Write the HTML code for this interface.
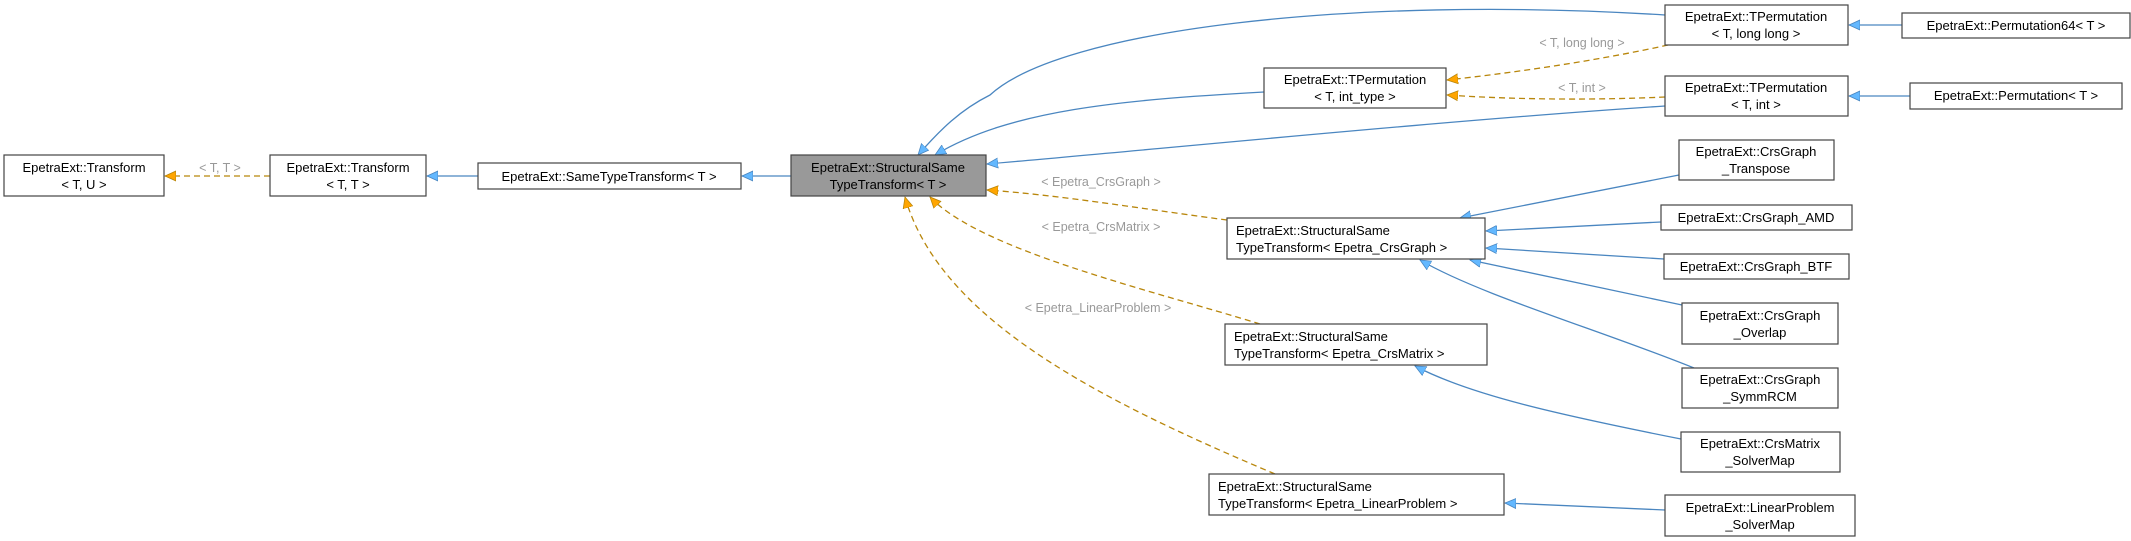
<!DOCTYPE html>
<html><head><meta charset="utf-8"><style>
html,body{margin:0;padding:0;background:#fff;}
svg{display:block;}
text{font-family:"Liberation Sans","DejaVu Sans",sans-serif;font-size:13px;fill:#000;}
.b{fill:#fff;stroke:#444;stroke-width:1.2;}
.l{font-size:12.5px;fill:#999;}
.bl{fill:none;stroke:#4a86c0;stroke-width:1.3;}
.or{fill:none;stroke:#b8860b;stroke-width:1.3;stroke-dasharray:6,4;}
</style></head><body>
<svg width="2131" height="541" viewBox="0 0 2131 541">
<defs>
<marker id="ab" markerWidth="12" markerHeight="12" refX="11" refY="6" orient="auto" markerUnits="userSpaceOnUse"><path d="M0,1 L11,6 L0,11 Z" fill="#63b8ff" stroke="#4a86c0" stroke-width="0.8"/></marker>
<marker id="ao" markerWidth="12" markerHeight="12" refX="11" refY="6" orient="auto" markerUnits="userSpaceOnUse"><path d="M0,1 L11,6 L0,11 Z" fill="#ffa500" stroke="#b8860b" stroke-width="0.8"/></marker>
</defs>
<!-- edges -->
<path class="or" d="M270,176 L165,176" marker-end="url(#ao)"/>
<path class="bl" d="M478,176 L427,176" marker-end="url(#ab)"/>
<path class="bl" d="M791,176 L742,176" marker-end="url(#ab)"/>
<path class="bl" d="M1665,15 C1350,-5 1060,30 990,95 C960,110 940,130 918,155" marker-end="url(#ab)"/>
<path class="bl" d="M1264,92 C1120,100 1010,110 935,155" marker-end="url(#ab)"/>
<path class="bl" d="M1665,106 C1450,120 1150,150 987,164" marker-end="url(#ab)"/>
<path class="or" d="M1668,45 C1600,60 1520,72 1447,80" marker-end="url(#ao)"/>
<path class="or" d="M1665,97 C1600,100 1520,100 1447,95" marker-end="url(#ao)"/>
<path class="bl" d="M1902,25 L1849,25" marker-end="url(#ab)"/>
<path class="bl" d="M1910,96 L1849,96" marker-end="url(#ab)"/>
<path class="or" d="M1227,220 C1150,210 1060,195 987,190" marker-end="url(#ao)"/>
<path class="or" d="M1260,324 C1150,290 980,250 930,197" marker-end="url(#ao)"/>
<path class="or" d="M1275,474 C1100,400 940,320 905,197" marker-end="url(#ao)"/>
<path class="bl" d="M1679,175 L1460,218" marker-end="url(#ab)"/>
<path class="bl" d="M1661,222 L1486,231" marker-end="url(#ab)"/>
<path class="bl" d="M1664,259 L1486,248" marker-end="url(#ab)"/>
<path class="bl" d="M1682,305 L1470,260" marker-end="url(#ab)"/>
<path class="bl" d="M1694,368 C1600,330 1480,295 1420,260" marker-end="url(#ab)"/>
<path class="bl" d="M1681,439 C1560,415 1470,395 1415,366" marker-end="url(#ab)"/>
<path class="bl" d="M1665,510 L1505,503" marker-end="url(#ab)"/>
<!-- edge labels -->
<text class="l" x="220" y="172" text-anchor="middle">&lt; T, T &gt;</text>
<text class="l" x="1582" y="47" text-anchor="middle">&lt; T, long long &gt;</text>
<text class="l" x="1582" y="92" text-anchor="middle">&lt; T, int &gt;</text>
<text class="l" x="1101" y="186" text-anchor="middle">&lt; Epetra_CrsGraph &gt;</text>
<text class="l" x="1101" y="231" text-anchor="middle">&lt; Epetra_CrsMatrix &gt;</text>
<text class="l" x="1098" y="312" text-anchor="middle">&lt; Epetra_LinearProblem &gt;</text>
<!-- nodes -->
<rect class="b" x="4" y="155" width="160" height="41"/>
<text x="84" y="172" text-anchor="middle">EpetraExt::Transform</text><text x="84" y="189" text-anchor="middle">&lt; T, U &gt;</text>
<rect class="b" x="270" y="155" width="156" height="41"/>
<text x="348" y="172" text-anchor="middle">EpetraExt::Transform</text><text x="348" y="189" text-anchor="middle">&lt; T, T &gt;</text>
<rect class="b" x="478" y="163" width="263" height="26"/>
<text x="609" y="181" text-anchor="middle">EpetraExt::SameTypeTransform&lt; T &gt;</text>
<rect x="791" y="155" width="195" height="41" fill="#999" stroke="#444" stroke-width="1.2"/>
<text x="888" y="172" text-anchor="middle">EpetraExt::StructuralSame</text><text x="888" y="189" text-anchor="middle">TypeTransform&lt; T &gt;</text>
<rect class="b" x="1665" y="5" width="183" height="40"/>
<text x="1756" y="21" text-anchor="middle">EpetraExt::TPermutation</text><text x="1756" y="38" text-anchor="middle">&lt; T, long long &gt;</text>
<rect class="b" x="1902" y="13" width="228" height="25"/>
<text x="2016" y="30" text-anchor="middle">EpetraExt::Permutation64&lt; T &gt;</text>
<rect class="b" x="1264" y="68" width="182" height="40"/>
<text x="1355" y="84" text-anchor="middle">EpetraExt::TPermutation</text><text x="1355" y="101" text-anchor="middle">&lt; T, int_type &gt;</text>
<rect class="b" x="1665" y="76" width="183" height="40"/>
<text x="1756" y="92" text-anchor="middle">EpetraExt::TPermutation</text><text x="1756" y="109" text-anchor="middle">&lt; T, int &gt;</text>
<rect class="b" x="1910" y="83" width="212" height="26"/>
<text x="2016" y="100" text-anchor="middle">EpetraExt::Permutation&lt; T &gt;</text>
<rect class="b" x="1679" y="140" width="155" height="40"/>
<text x="1756" y="156" text-anchor="middle">EpetraExt::CrsGraph</text><text x="1756" y="173" text-anchor="middle">_Transpose</text>
<rect class="b" x="1661" y="205" width="191" height="25"/>
<text x="1756" y="222" text-anchor="middle">EpetraExt::CrsGraph_AMD</text>
<rect class="b" x="1664" y="254" width="185" height="25"/>
<text x="1756" y="271" text-anchor="middle">EpetraExt::CrsGraph_BTF</text>
<rect class="b" x="1227" y="218" width="258" height="41"/>
<text x="1236" y="235">EpetraExt::StructuralSame</text><text x="1236" y="252">TypeTransform&lt; Epetra_CrsGraph &gt;</text>
<rect class="b" x="1682" y="303" width="156" height="41"/>
<text x="1760" y="320" text-anchor="middle">EpetraExt::CrsGraph</text><text x="1760" y="337" text-anchor="middle">_Overlap</text>
<rect class="b" x="1682" y="368" width="156" height="40"/>
<text x="1760" y="384" text-anchor="middle">EpetraExt::CrsGraph</text><text x="1760" y="401" text-anchor="middle">_SymmRCM</text>
<rect class="b" x="1225" y="324" width="262" height="41"/>
<text x="1234" y="341">EpetraExt::StructuralSame</text><text x="1234" y="358">TypeTransform&lt; Epetra_CrsMatrix &gt;</text>
<rect class="b" x="1681" y="432" width="159" height="40"/>
<text x="1760" y="448" text-anchor="middle">EpetraExt::CrsMatrix</text><text x="1760" y="465" text-anchor="middle">_SolverMap</text>
<rect class="b" x="1209" y="474" width="295" height="41"/>
<text x="1218" y="491">EpetraExt::StructuralSame</text><text x="1218" y="508">TypeTransform&lt; Epetra_LinearProblem &gt;</text>
<rect class="b" x="1665" y="495" width="190" height="41"/>
<text x="1760" y="512" text-anchor="middle">EpetraExt::LinearProblem</text><text x="1760" y="529" text-anchor="middle">_SolverMap</text>
</svg>
</body></html>
